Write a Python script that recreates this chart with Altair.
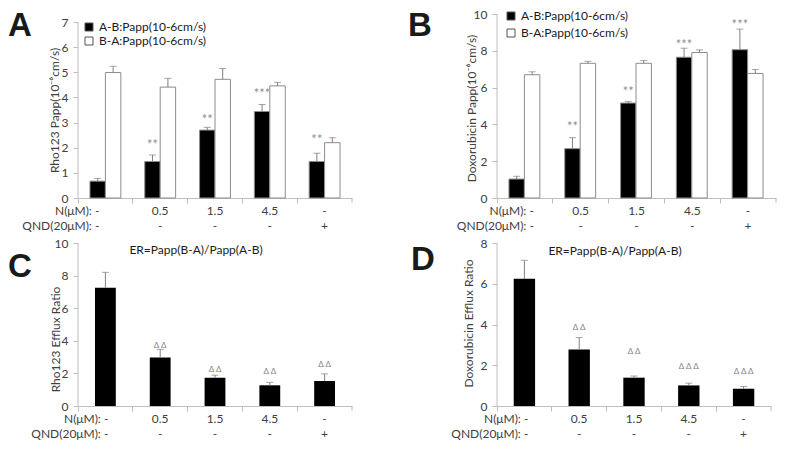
import altair as alt
import pandas as pd

FONT = "Lato"
TEXT = "#404040"
AXIS = "#bfbfbf"
ERR = "#808080"
STAR = "#8f8f8f"

cats = ["g1", "g2", "g3", "g4", "g5"]
n_labels = ["-", "0.5", "1.5", "4.5", "-"]
qnd_labels = ["-", "-", "-", "-", "+"]
series = ["A-B:Papp(10-6cm/s)", "B-A:Papp(10-6cm/s)"]

# Panel A (Rho123 Papp)
a_ab = [0.67, 1.45, 2.70, 3.44, 1.45]
a_ab_sd = [0.11, 0.26, 0.11, 0.28, 0.33]
a_ba = [4.99, 4.41, 4.72, 4.46, 2.20]
a_ba_sd = [0.25, 0.35, 0.43, 0.14, 0.20]
a_marks = ["", "**", "**", "***", "**"]
a_mark_y = [0, 2.24, 3.24, 4.25, 2.44]

# Panel B (Doxorubicin Papp)
b_ab = [1.03, 2.68, 5.16, 7.65, 8.06]
b_ab_sd = [0.15, 0.60, 0.09, 0.49, 1.12]
b_ba = [6.70, 7.32, 7.32, 7.91, 6.77]
b_ba_sd = [0.16, 0.11, 0.15, 0.14, 0.21]
b_marks = ["", "**", "**", "***", "***"]
b_mark_y = [0, 4.0, 5.95, 8.49, 9.57]

# Panel C (Rho123 efflux ratio)
c_er = [7.25, 2.97, 1.73, 1.27, 1.53]
c_sd = [0.95, 0.50, 0.16, 0.18, 0.44]
c_marks = ["", "Δ Δ", "Δ Δ", "Δ Δ", "Δ Δ"]
c_mark_y = [0, 3.7, 2.2, 2.1, 2.5]

# Panel D (Doxorubicin efflux ratio)
d_er = [6.24, 2.77, 1.39, 1.01, 0.85]
d_sd = [0.91, 0.59, 0.08, 0.11, 0.11]
d_marks = ["", "Δ Δ", "Δ Δ", "Δ Δ Δ", "Δ Δ Δ"]
d_mark_y = [0, 3.84, 2.64, 1.89, 1.68]

er_title = "ER=Papp(B-A)/Papp(A-B)"


def x_enc():
    return alt.X(
        "cat:N", sort=cats,
        scale=alt.Scale(domain=cats, paddingInner=0, paddingOuter=0),
        axis=alt.Axis(title=None, labels=False, bandPosition=0, tickSize=5,
                      tickColor=AXIS, domainColor=AXIS, grid=False),
    )


def y_maker(ydom, yticks, ytitle, tx, ty):
    def make(field):
        return alt.Y(
            field, scale=alt.Scale(domain=[0, ydom], nice=False, zero=True),
            axis=alt.Axis(values=yticks, domain=False, tickSize=5, tickColor=AXIS,
                          labelPadding=5, labelFont=FONT, labelFontSize=12,
                          labelColor=TEXT, labelOverlap=False, labelFlush=False,
                          title=ytitle, titleX=tx, titleY=ty,
                          titleAngle=-90, titleAlign="center",
                          titleBaseline="middle", titleFont=FONT,
                          titleFontSize=12, titleFontWeight="normal",
                          titleColor=TEXT, grid=False),
        )
    return make


def common_layers(width, height, letter, lx, ly, hdr_dx, dy1, dy2):
    one = pd.DataFrame({"k": [0]})
    X = x_enc()
    lab = pd.DataFrame({"cat": cats, "n": n_labels, "q": qnd_labels})
    lab.loc[0, "n"] = "N(μM): " + n_labels[0]
    lab.loc[0, "q"] = "QND(20μM): " + qnd_labels[0]
    base = alt.Chart(lab)
    first = base.transform_filter(alt.datum.cat == cats[0])
    rest = base.transform_filter(alt.datum.cat != cats[0])
    t = dict(font=FONT, fontSize=12, color=TEXT, baseline="middle")
    layers = [
        rest.mark_text(**t).encode(x=X, y=alt.value(height + dy1), text="n:N"),
        rest.mark_text(**t).encode(x=X, y=alt.value(height + dy2), text="q:N"),
        first.mark_text(align="right", dx=hdr_dx, **t).encode(
            x=X, y=alt.value(height + dy1), text="n:N"),
        first.mark_text(align="right", dx=hdr_dx, **t).encode(
            x=X, y=alt.value(height + dy2), text="q:N"),
        alt.Chart(one).mark_rule(color=AXIS).encode(
            x=alt.value(width), y=alt.value(height), y2=alt.value(height + 5)),
        alt.Chart(one).mark_text(text=letter, font="Liberation Sans", fontSize=33,
                                 fontWeight="bold", color="#1a1a1a", align="left",
                                 baseline="top").encode(
            x=alt.value(lx), y=alt.value(ly)),
    ]
    return layers


def grouped_panel(ab, ab_sd, ba, ba_sd, marks, mark_y, ydom, yticks, ytitle,
                  tx, ty, width, height, letter, lx, ly, legx, legy, rowpad,
                  hdr_dx):
    rows = []
    for i, c in enumerate(cats):
        rows.append(dict(cat=c, series=series[0], val=ab[i], err=ab[i] + ab_sd[i]))
        rows.append(dict(cat=c, series=series[1], val=ba[i], err=ba[i] + ba_sd[i]))
    df = pd.DataFrame(rows)
    sdf = pd.DataFrame({"cat": cats, "series": series[0], "val": mark_y, "m": marks})
    sdf = sdf[sdf["m"] != ""]
    X = x_enc()
    XO = alt.XOffset("series:N", sort=series,
                     scale=alt.Scale(domain=series, paddingInner=0, paddingOuter=0.775))
    Y = y_maker(ydom, yticks, ytitle, tx, ty)
    color = alt.Color(
        "series:N", sort=series,
        scale=alt.Scale(domain=series, range=["#000000", "#ffffff"]),
        legend=alt.Legend(title=None, orient="none", legendX=legx, legendY=legy,
                          symbolType="square", symbolSize=64,
                          symbolStrokeColor="#555555", symbolStrokeWidth=1,
                          labelFont=FONT, labelFontSize=12, labelColor="#1a1a1a",
                          labelOffset=4, rowPadding=rowpad, padding=0),
    )
    bars = alt.Chart(df).mark_bar(stroke="#8c8c8c", strokeWidth=1).encode(
        x=X, xOffset=XO, y=Y("val:Q"), color=color)
    err = alt.Chart(df).mark_rule(color=ERR, strokeWidth=1).encode(
        x=X, xOffset=XO, y=Y("val:Q"), y2="err:Q")
    cap = alt.Chart(df).mark_tick(color=ERR, thickness=1, size=7).encode(
        x=X, xOffset=XO, y=Y("err:Q"))
    stars = alt.Chart(sdf).mark_text(font=FONT, fontSize=13, color=STAR,
                                     baseline="middle", dy=3).encode(
        x=X, xOffset=XO, y=Y("val:Q"), text="m:N")
    ydf = pd.DataFrame({"lo": [0], "hi": [yticks[-1]]})
    yline = alt.Chart(ydf).mark_rule(color=AXIS).encode(
        x=alt.value(0), y=Y("lo:Q"), y2="hi:Q")
    layers = [bars, err, cap, stars, yline] + common_layers(
        width, height, letter, lx, ly, hdr_dx, 13, 28)
    return alt.layer(*layers).properties(width=width, height=height)


def ratio_panel(er, sd, marks, mark_y, ydom, yticks, ytitle, tx, ty, width,
                height, letter, lx, ly, title_y, hdr_dx, bandw):
    df = pd.DataFrame({"cat": cats, "val": er, "err": [e + s for e, s in zip(er, sd)]})
    sdf = pd.DataFrame({"cat": cats, "val": mark_y, "m": marks})
    sdf = sdf[sdf["m"] != ""]
    X = x_enc()
    Y = y_maker(ydom, yticks, ytitle, tx, ty)
    bars = alt.Chart(df).mark_bar(color="#000000",
                                  width=alt.RelativeBandSize(bandw)).encode(
        x=X, y=Y("val:Q"))
    err = alt.Chart(df).mark_rule(color=ERR, strokeWidth=1).encode(
        x=X, y=Y("val:Q"), y2="err:Q")
    cap = alt.Chart(df).mark_tick(color=ERR, thickness=1, size=7).encode(
        x=X, y=Y("err:Q"))
    tri = alt.Chart(sdf).mark_text(font=FONT, fontSize=8, color=ERR,
                                   baseline="middle").encode(
        x=X, y=Y("val:Q"), text="m:N")
    tdf = pd.DataFrame({"cat": [cats[2]], "ty": [title_y], "t": [er_title]})
    title = alt.Chart(tdf).mark_text(font=FONT, fontSize=12,
                                     color="#1a1a1a", baseline="middle",
                                     dx=-19).encode(
        x=X, y=Y("ty:Q"), text="t:N")
    ydf = pd.DataFrame({"lo": [0], "hi": [yticks[-1]]})
    yline = alt.Chart(ydf).mark_rule(color=AXIS).encode(
        x=alt.value(0), y=Y("lo:Q"), y2="hi:Q")
    layers = [bars, err, cap, tri, title, yline] + common_layers(
        width, height, letter, lx, ly, hdr_dx, 13, 28)
    return alt.layer(*layers).properties(width=width, height=height)


pA = grouped_panel(a_ab, a_ab_sd, a_ba, a_ba_sd, a_marks, a_mark_y,
                   7 * 184 / 176, [0, 1, 2, 3, 4, 5, 6, 7],
                   "Rho123 Papp(10⁻⁶cm/s)", -24, 96, 274, 184, "A", -70, -4,
                   5, 7, 2, -6)
pB = grouped_panel(b_ab, b_ab_sd, b_ba, b_ba_sd, b_marks, b_mark_y,
                   10, [0, 2, 4, 6, 8, 10],
                   "Doxorubicin Papp(10⁻⁶cm/s)", -26, 94, 279, 184, "B", -89, -4,
                   8, -4, 5, 9)
pC = ratio_panel(c_er, c_sd, c_marks, c_mark_y, 10, [0, 2, 4, 6, 8, 10],
                 "Rho123 Efflux Ratio", -23, 96, 274, 163, "C", -70, 8, 9.58, 3,
                 0.38)
pD = ratio_panel(d_er, d_sd, d_marks, d_mark_y, 8, [0, 2, 4, 6, 8],
                 "Doxorubicin Efflux Ratio", -29, 80, 274, 163, "D", -86, 1, 7.6, 4,
                 0.39)

chart = alt.concat(
    pA, pB, pC, pD, columns=2,
    spacing=alt.RowColnumber(row=45, column=145),
    bounds="flush", align="each", padding=0,
).resolve_scale(color="independent", x="independent", y="independent"
).configure_view(stroke=None).configure_axis(grid=False).configure_axisY(
    labelOverlap=False)

chart.save("out.html", embed_options={"renderer": "svg", "actions": False})
